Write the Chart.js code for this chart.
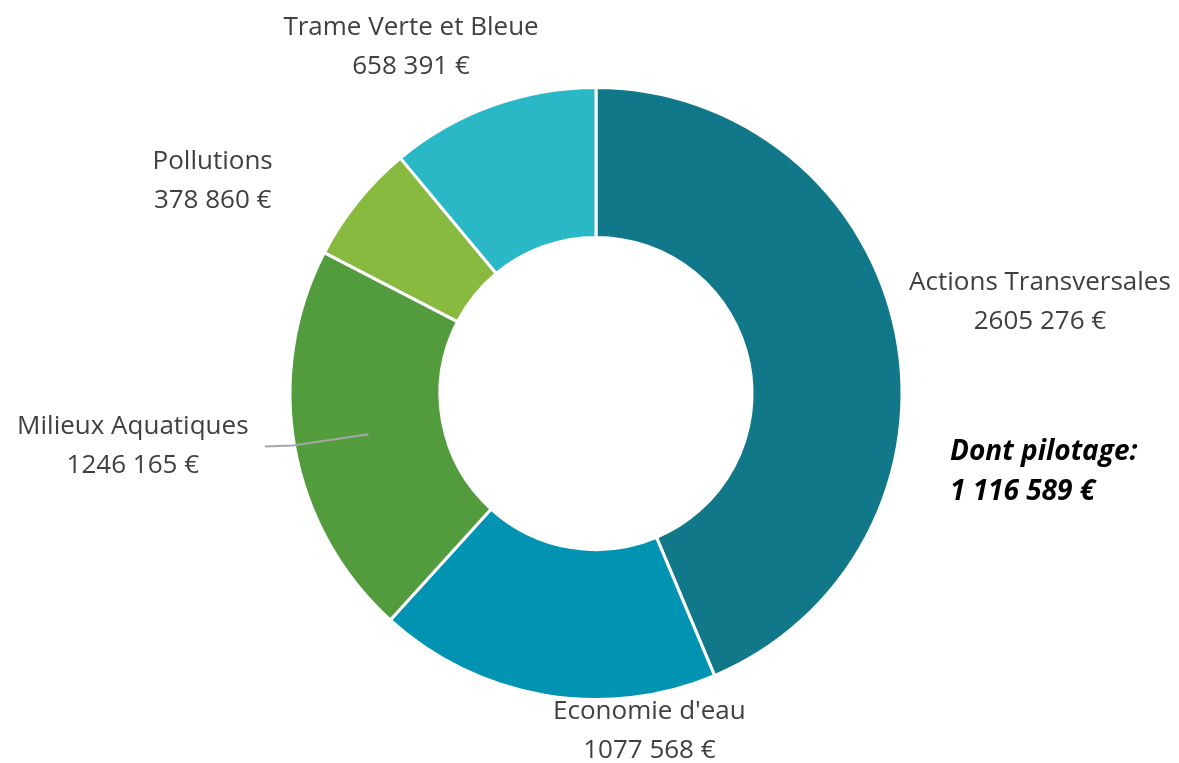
<!DOCTYPE html>
<html lang="fr">
<head>
<meta charset="utf-8">
<script src="https://cdn.jsdelivr.net/npm/chart.js@4.4.1/dist/chart.umd.min.js"></script>
<style>
  html, body { margin: 0; padding: 0; background: #ffffff; }
  #wrap { width: 1179px; height: 763px; position: relative; }
</style>
</head>
<body>
<div id="wrap"><canvas id="graph"></canvas></div>
<script>
// Données du graphique
const categories = ["Actions Transversales", "Economie d'eau", "Milieux Aquatiques", "Pollutions", "Trame Verte et Bleue"];
const montants = [2605276, 1077568, 1246165, 378860, 658391];
const etiquettesMontant = ["2605 276 €", "1077 568 €", "1246 165 €", "378 860 €", "658 391 €"];
const couleurs = ["#11788A", "#0093B2", "#539C3E", "#87BA3F", "#2AB7C6"];
const pilotage = ["Dont pilotage:", "1 116 589 €"];

// décalage des étiquettes par rapport au bord extérieur de chaque part (px)
const decalages = [[144, -30], [105, 36], [-162, -1], [-145, -20], [-81, -58]];

const policeTexte = "26px 'Open Sans', sans-serif";

const pluginEtiquettes = {
  id: "etiquettes",
  afterDraw(chart) {
    const ctx = chart.ctx;
    const arcs = chart.getDatasetMeta(0).data;
    ctx.save();
    ctx.textAlign = "center";
    ctx.textBaseline = "middle";
    arcs.forEach((arc, i) => {
      const p = arc.getProps(["x", "y", "startAngle", "endAngle", "outerRadius", "innerRadius"]);
      const mid = (p.startAngle + p.endAngle) / 2;
      const ax = p.x + Math.cos(mid) * p.outerRadius;
      const ay = p.y + Math.sin(mid) * p.outerRadius;
      const lx = ax + decalages[i][0];
      const ly = ay + decalages[i][1];

      // ligne de rappel pour Milieux Aquatiques
      if (i === 2) {
        const rMid = (p.outerRadius + p.innerRadius) / 2;
        ctx.strokeStyle = "#A6A6A6";
        ctx.lineWidth = 2;
        ctx.beginPath();
        ctx.moveTo(lx + 132, ly);
        ctx.lineTo(lx + 160, ly - 1);
        ctx.lineTo(p.x + Math.cos(mid) * rMid, p.y + Math.sin(mid) * rMid);
        ctx.stroke();
      }

      ctx.font = policeTexte;
      ctx.fillStyle = "#404040";
      ctx.fillText(categories[i], lx, ly - 20);
      ctx.fillText(etiquettesMontant[i], lx, ly + 19);

      // texte "Dont pilotage" sous Actions Transversales
      if (i === 0) {
        ctx.textAlign = "left";
        ctx.font = "italic bold 28px 'Open Sans', sans-serif";
        ctx.fillStyle = "#000000";
        ctx.fillText(pilotage[0], ax + 54, ay + 119);
        ctx.fillText(pilotage[1], ax + 54, ay + 159);
        ctx.textAlign = "center";
      }
    });
    ctx.restore();
  }
};

const config = {
  type: "doughnut",
  data: {
    labels: categories,
    datasets: [
      {
        data: montants,
        backgroundColor: couleurs,
        borderColor: "#ffffff",
        borderWidth: 3,
        hoverOffset: 0
      }
    ]
  },
  options: {
    responsive: true,
    maintainAspectRatio: false,
    animation: false,
    cutout: "51%",
    layout: { padding: { left: 288, right: 275, top: 86, bottom: 62 } },
    plugins: {
      legend: { display: false },
      tooltip: { enabled: false }
    }
  },
  plugins: [pluginEtiquettes]
};

const graphCanvas = document.getElementById("graph");
window.myChart = new Chart(graphCanvas, config);
</script>
</body>
</html>
